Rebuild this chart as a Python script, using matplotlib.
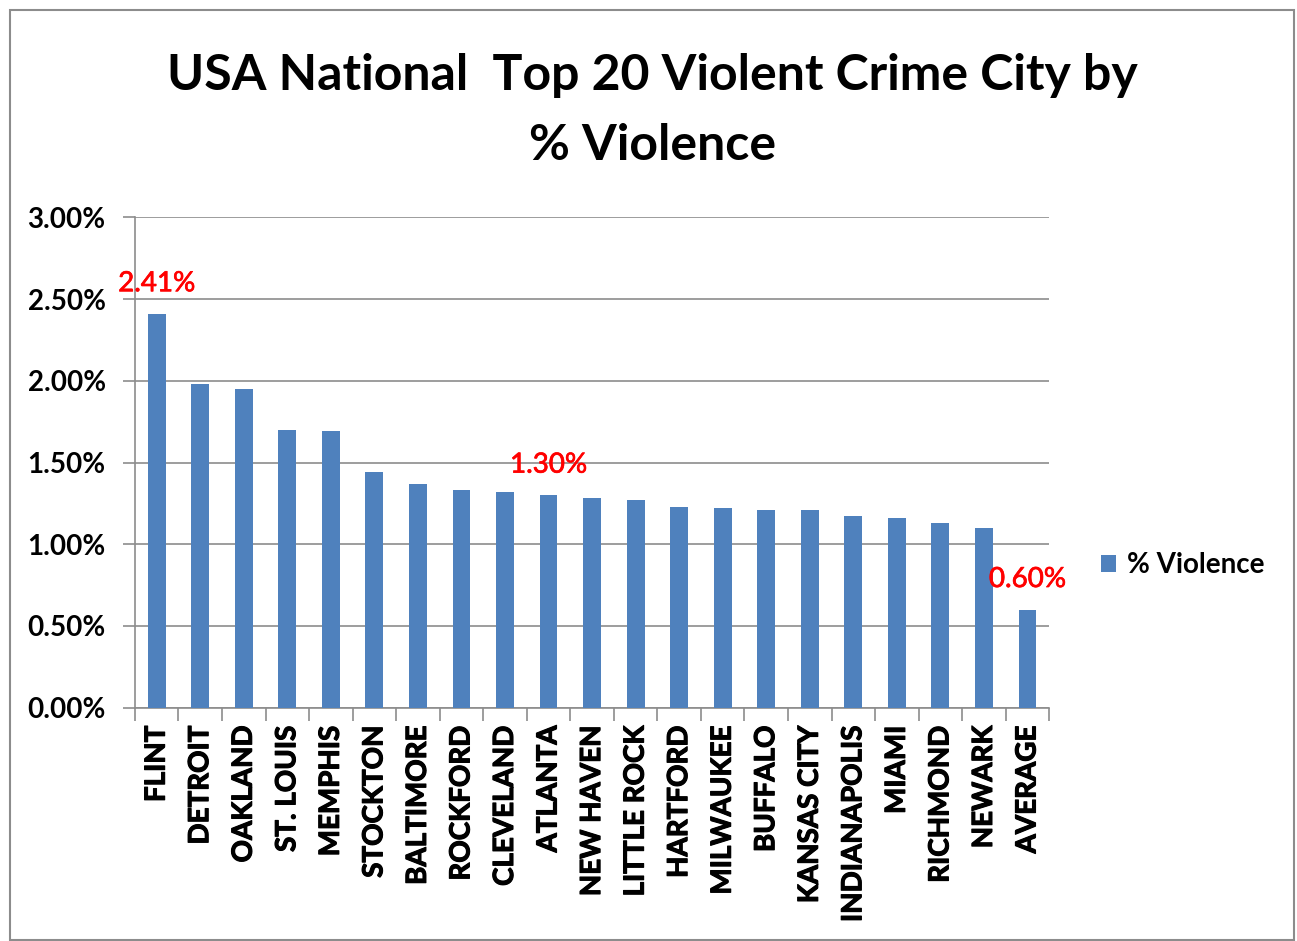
import numpy as np
import matplotlib.pyplot as plt
import matplotlib.patheffects as pe
from matplotlib.patches import Rectangle
from matplotlib.ticker import FuncFormatter, FixedLocator

plt.rcParams['font.family'] = ['Lato', 'DejaVu Sans']

cities = ['FLINT', 'DETROIT', 'OAKLAND', 'ST. LOUIS', 'MEMPHIS', 'STOCKTON',
          'BALTIMORE', 'ROCKFORD', 'CLEVELAND', 'ATLANTA', 'NEW HAVEN',
          'LITTLE ROCK', 'HARTFORD', 'MILWAUKEE', 'BUFFALO', 'KANSAS CITY',
          'INDIANAPOLIS', 'MIAMI', 'RICHMOND', 'NEWARK', 'AVERAGE']
violence = [2.41, 1.98, 1.95, 1.70, 1.69, 1.44, 1.37, 1.33, 1.32, 1.30, 1.28,
            1.27, 1.23, 1.22, 1.21, 1.21, 1.17, 1.16, 1.13, 1.10, 0.60]
highlight = ['FLINT', 'ATLANTA', 'AVERAGE']

fig = plt.figure(figsize=(12.97, 9.41), dpi=100)
ax = fig.add_axes([0.104, 0.248, 0.705, 0.521])

x = np.arange(len(cities))
ax.bar(x, violence, width=0.41, color='#4f81bd', label='% Violence', zorder=3)

ax.set_xlim(-0.5, len(cities) - 0.5)
ax.set_ylim(0, 3.0)
ax.set_yticks(np.arange(0, 3.01, 0.5))
ax.yaxis.set_major_formatter(FuncFormatter(lambda v, p: f'{v:.2f}%'))
ax.grid(axis='y', color='#8c8c8c', linewidth=1.2, zorder=0)

ax.set_xticks(x)
ax.set_xticklabels(cities, rotation=90, fontsize=20, fontweight='bold')
ax.tick_params(axis='x', which='major', length=0, pad=13)
ax.xaxis.set_minor_locator(FixedLocator(np.arange(-0.5, len(cities), 1)))
ax.tick_params(axis='x', which='minor', length=9, color='#8c8c8c', width=1.2)
ax.tick_params(axis='y', length=9, color='#8c8c8c', width=1.2, labelsize=20, pad=12)
for lab in ax.get_yticklabels():
    lab.set_fontweight('bold')
for lab in ax.get_xticklabels():
    lab.set_path_effects([pe.withStroke(linewidth=0.8, foreground='black')])

for s in ['top', 'right']:
    ax.spines[s].set_visible(False)
for s in ['left', 'bottom']:
    ax.spines[s].set_color('#8c8c8c')
    ax.spines[s].set_linewidth(1.2)

for i, (c, v) in enumerate(zip(cities, violence)):
    if c in highlight:
        ax.annotate(f'{v:.2f}%', (i, v), xytext=(0, 22), textcoords='offset points',
                    ha='center', va='center', color='red', fontsize=20,
                    path_effects=[pe.withStroke(linewidth=0.5, foreground='red')])

ax.legend(loc='center left', bbox_to_anchor=(1.029, 0.29), frameon=False,
          prop={'weight': 'bold', 'size': 20}, handlelength=0.55, handleheight=0.55,
          handletextpad=0.4)

fig.text(0.503, 0.883, 'USA National  Top 20 Violent Crime City by\n% Violence',
         ha='center', va='center', fontsize=36, fontweight='bold', linespacing=1.68)

fig.patches.append(Rectangle((0.008, 0.001), 0.99, 0.988, transform=fig.transFigure,
                             fill=False, edgecolor='#8c8c8c', linewidth=1.5))

fig.savefig('out.png', dpi=100)
